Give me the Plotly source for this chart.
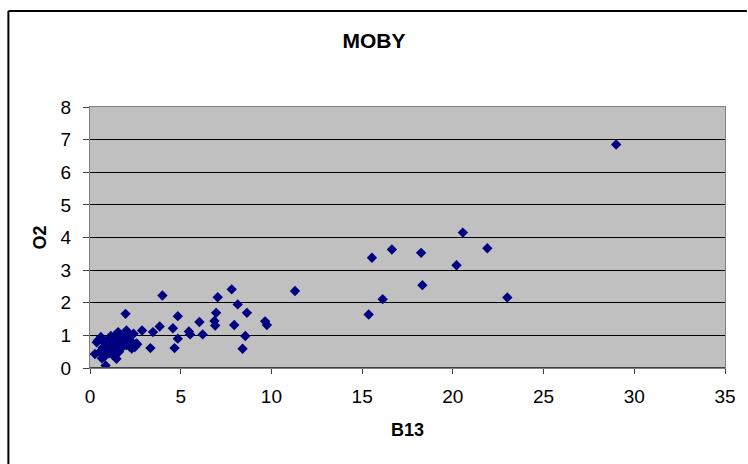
import plotly.graph_objects as go

# B13 vs O2 measurements
b13 = [
    29.0, 20.55, 21.9, 20.2, 16.64, 15.54, 18.25, 18.32, 16.13, 15.36, 23.0,
    11.3, 9.65, 9.75, 8.65, 8.56, 8.41, 8.14, 7.95, 7.81,
    7.04, 6.95, 6.86, 6.9, 6.21, 6.03, 5.45, 5.52,
    4.84, 4.84, 4.57, 4.66, 3.99, 3.84, 3.47, 3.33, 2.87, 2.01, 1.96, 1.55,
    0.86, 0.27, 0.37, 1.46, 2.47, 2.6,
    0.45, 0.55, 0.6, 0.7, 0.75, 0.8, 0.9, 0.95, 1.0, 1.05, 1.1, 1.15,
    1.2, 1.25, 1.3, 1.35, 1.4, 1.5, 1.6, 1.65, 1.7, 1.8, 1.85, 1.9,
    2.0, 2.1, 2.2, 2.3, 2.4, 2.55, 0.65, 1.0, 1.3, 2.2,
]
o2 = [
    6.85, 4.15, 3.67, 3.15, 3.63, 3.38, 3.53, 2.54, 2.11, 1.64, 2.16,
    2.36, 1.43, 1.32, 1.69, 0.98, 0.59, 1.95, 1.32, 2.41,
    2.17, 1.69, 1.44, 1.30, 1.03, 1.41, 1.12, 1.03,
    1.59, 0.90, 1.22, 0.61, 2.22, 1.27, 1.10, 0.61, 1.15, 1.15, 1.66, 1.10,
    0.08, 0.43, 0.79, 0.28, 0.64, 0.73,
    0.85, 0.5, 0.95, 0.62, 0.8, 0.35, 0.7, 0.55, 0.88, 0.45, 0.65, 0.98,
    0.75, 0.4, 0.85, 0.6, 0.95, 0.7, 0.5, 0.85, 1.0, 0.65, 0.9, 0.78,
    0.7, 1.05, 0.85, 0.6, 1.05, 0.75, 0.3, 0.6, 0.95, 0.65,
]

x_ticks = [0, 5, 10, 15, 20, 25, 30, 35]
y_ticks = [0, 1, 2, 3, 4, 5, 6, 7, 8]

FONT = "Liberation Sans, Arial, sans-serif"
W, H = 748, 464
L, R, T, B = 90, 20, 107, 96
pw, ph = W - L - R, H - T - B


def px_x(p):
    """page pixel column -> paper x"""
    return (p - L) / pw


def px_y(p):
    """page pixel row -> paper y"""
    return (H - B - p) / ph


fig = go.Figure(
    go.Scatter(
        x=b13, y=o2, mode="markers",
        marker=dict(symbol="diamond", size=8, color="#000080",
                    line=dict(width=0)),
        showlegend=False,
    )
)

# outer chart frame: left and top edges
frame = dict(color="black", width=2)
fig.add_shape(type="line", xref="paper", yref="paper",
              x0=px_x(8), x1=px_x(8), y0=px_y(H + 2), y1=px_y(11), line=frame)
fig.add_shape(type="line", xref="paper", yref="paper",
              x0=px_x(8), x1=px_x(W + 2), y0=px_y(11), y1=px_y(11), line=frame)

fig.update_layout(
    width=W, height=H,
    margin=dict(l=L, r=R, t=T, b=B),
    paper_bgcolor="white",
    plot_bgcolor="#C0C0C0",
    font=dict(family=FONT, size=19, color="black"),
    title=dict(text="<b>MOBY</b>", x=0.5, xref="container", xanchor="center",
               y=1 - 41 / H, yanchor="middle",
               font=dict(size=21, family=FONT, color="black")),
    xaxis=dict(
        range=[0, 35], tickvals=x_ticks, ticktext=[str(v) for v in x_ticks],
        showgrid=False, zeroline=False,
        showline=True, linecolor="#808080", linewidth=1, mirror=True,
        ticks="outside", ticklen=5, tickcolor="#404040",
        tickfont=dict(size=19), ticklabelstandoff=6,
        title=dict(text="<b>B13</b>", font=dict(size=18), standoff=17),
    ),
    yaxis=dict(
        range=[0, 8], tickvals=y_ticks, ticktext=[str(v) for v in y_ticks],
        showgrid=True, gridcolor="black", gridwidth=1, zeroline=False,
        showline=True, linecolor="#808080", linewidth=1, mirror=True,
        ticks="outside", ticklen=6, tickcolor="#404040",
        tickfont=dict(size=19), ticklabelstandoff=8,
        title=dict(text="<b>O2</b>", font=dict(size=18), standoff=9),
    ),
)

# darker baseline along the x axis
fig.add_shape(type="line", xref="paper", yref="y", x0=0, x1=1, y0=0, y1=0,
              line=dict(color="#404040", width=2))

fig.write_html("out.html")
